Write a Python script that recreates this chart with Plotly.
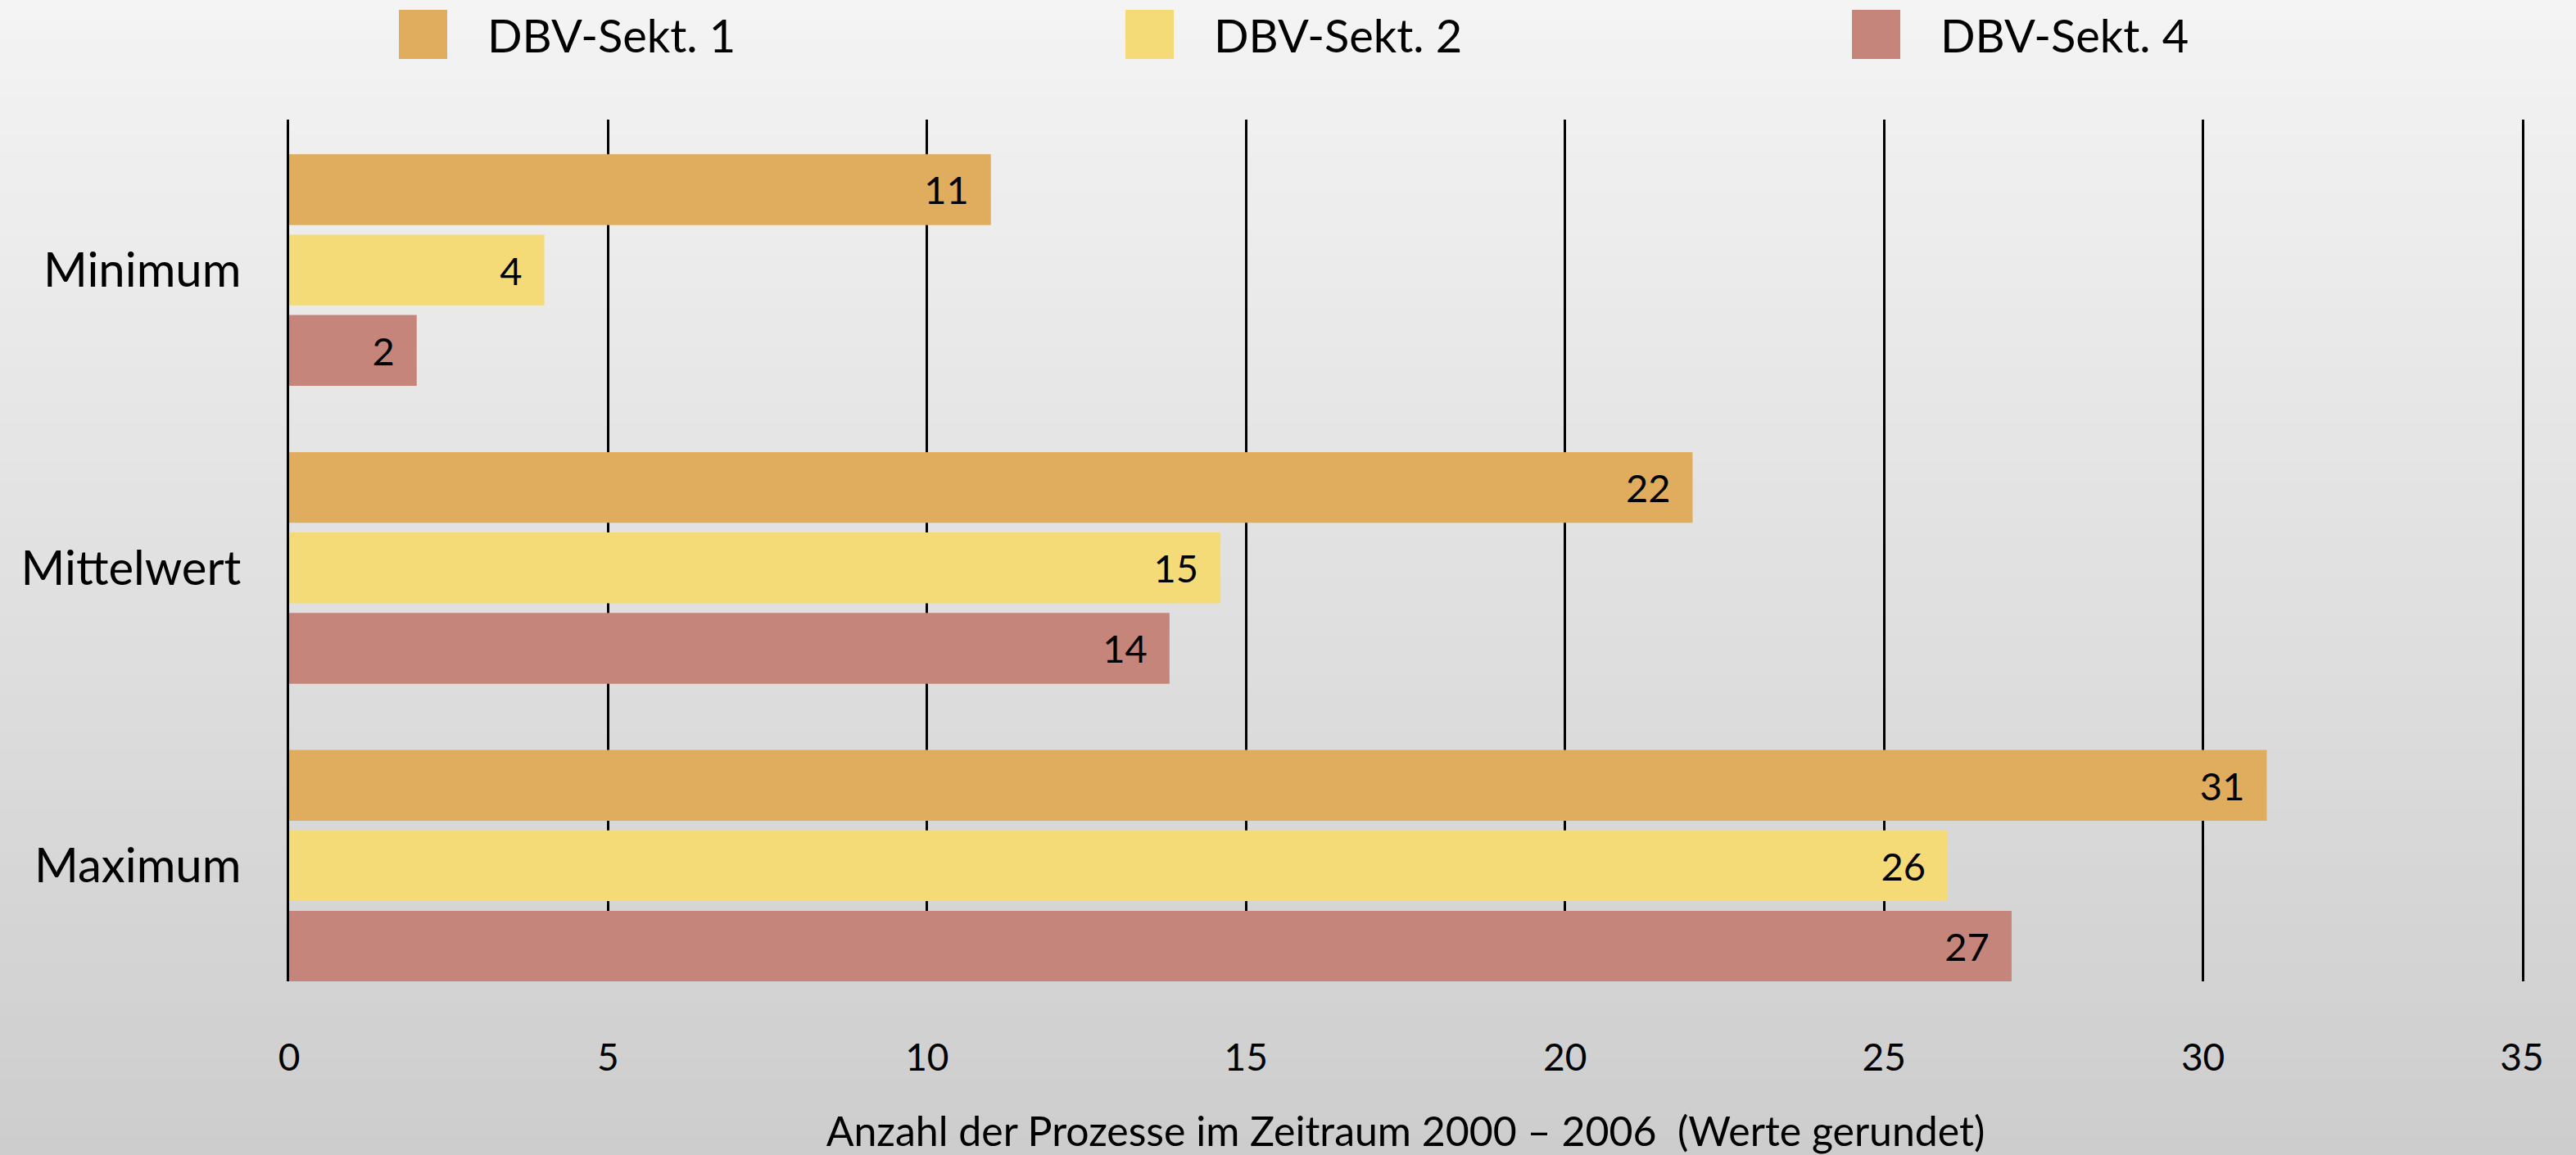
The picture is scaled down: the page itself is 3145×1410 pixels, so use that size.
import plotly.graph_objects as go

# ---- data ----
categories = ["Minimum", "Mittelwert", "Maximum"]
series_names = ["DBV-Sekt. 1", "DBV-Sekt. 2", "DBV-Sekt. 4"]
sekt1 = [11, 22, 31]
sekt2 = [4, 14.6, 26]
sekt4 = [2, 13.8, 27]
sekt1_labels = ["11", "22", "31"]
sekt2_labels = ["4", "15", "26"]
sekt4_labels = ["2", "14", "27"]
x_ticks = [0, 5, 10, 15, 20, 25, 30, 35]
x_title = "Anzahl der Prozesse im Zeitraum 2000 – 2006  (Werte gerundet)"

# ---- style ----
colors = ["#E0AD5F", "#F4DB78", "#C5857B"]
FONT = "Lato"
W, H = 3145, 1410
L, R, T, B = 353, 66, 146, 212
PW, PH = W - L - R, H - T - B


def px_to_paper_x(px):
    return (px - L) / PW


def px_to_paper_y(py):
    return (H - B - py) / PH


fig = go.Figure()
values = [sekt1, sekt2, sekt4]
labels = [sekt1_labels, sekt2_labels, sekt4_labels]
for name, vals, labs, col in zip(series_names, values, labels, colors):
    fig.add_trace(go.Bar(
        y=categories, x=vals, orientation="h", name=name,
        marker=dict(color=col, line=dict(width=0)),
        text=labs, texttemplate="%{text}\u00a0\u00a0",
        textposition="inside", insidetextanchor="end",
        textfont=dict(family=FONT, size=47, color="black"),
        constraintext="none", showlegend=False,
        hoverinfo="x+y",
    ))

shapes = []
# background gradient
N = 60
top_c, bot_c = 244, 205
for i in range(N):
    y0 = i * H / N
    y1 = (i + 1) * H / N + 1
    g = round(top_c + (bot_c - top_c) * (i + 0.5) / N)
    shapes.append(dict(
        type="rect", xref="paper", yref="paper", layer="below",
        x0=px_to_paper_x(-5), x1=px_to_paper_x(W + 5),
        y0=px_to_paper_y(y0), y1=px_to_paper_y(y1),
        fillcolor=f"rgb({g},{g},{g})", line=dict(width=0),
    ))

# manual legend
annotations = []
legend_swatch_x = [487, 1374, 2261]
for name, col, sx in zip(series_names, colors, legend_swatch_x):
    shapes.append(dict(
        type="rect", xref="paper", yref="paper", layer="above",
        x0=px_to_paper_x(sx), x1=px_to_paper_x(sx + 59),
        y0=px_to_paper_y(12), y1=px_to_paper_y(72),
        fillcolor=col, line=dict(width=0),
    ))
    annotations.append(dict(
        xref="paper", yref="paper", x=px_to_paper_x(sx + 106), y=px_to_paper_y(42),
        xanchor="left", yanchor="middle", showarrow=False, text=name,
        font=dict(family=FONT, size=56, color="black"),
    ))

fig.update_layout(
    width=W, height=H,
    margin=dict(l=L, r=R, t=T, b=B, pad=0, autoexpand=False),
    paper_bgcolor="rgb(225,225,225)",
    plot_bgcolor="rgba(0,0,0,0)",
    barmode="group", bargap=0.19, bargroupgap=0.12,
    shapes=shapes, annotations=annotations,
    font=dict(family=FONT, color="black"),
    xaxis=dict(
        range=[0, 35], tickvals=x_ticks, ticktext=[str(v) for v in x_ticks],
        showgrid=True, gridcolor="black", gridwidth=3,
        zeroline=False, showline=False, ticks="",
        tickfont=dict(family=FONT, size=46, color="black"),
        ticklabelstandoff=62, automargin=False,
        title=dict(text=x_title, font=dict(family=FONT, size=50, color="black"), standoff=54),
        fixedrange=True,
    ),
    yaxis=dict(
        type="category", categoryorder="array", categoryarray=categories,
        range=[2.388, -0.505],
        showgrid=False, zeroline=False,
        showline=True, mirror=True, linecolor="black", linewidth=3,
        ticks="", automargin=False,
        tickfont=dict(family=FONT, size=58, color="black"),
        ticklabelstandoff=44, fixedrange=True,
    ),
)

fig.write_html(
    "out.html",
    config={"displayModeBar": False},
    post_script="document.body.style.margin='0';document.body.style.overflow='hidden';",
)
